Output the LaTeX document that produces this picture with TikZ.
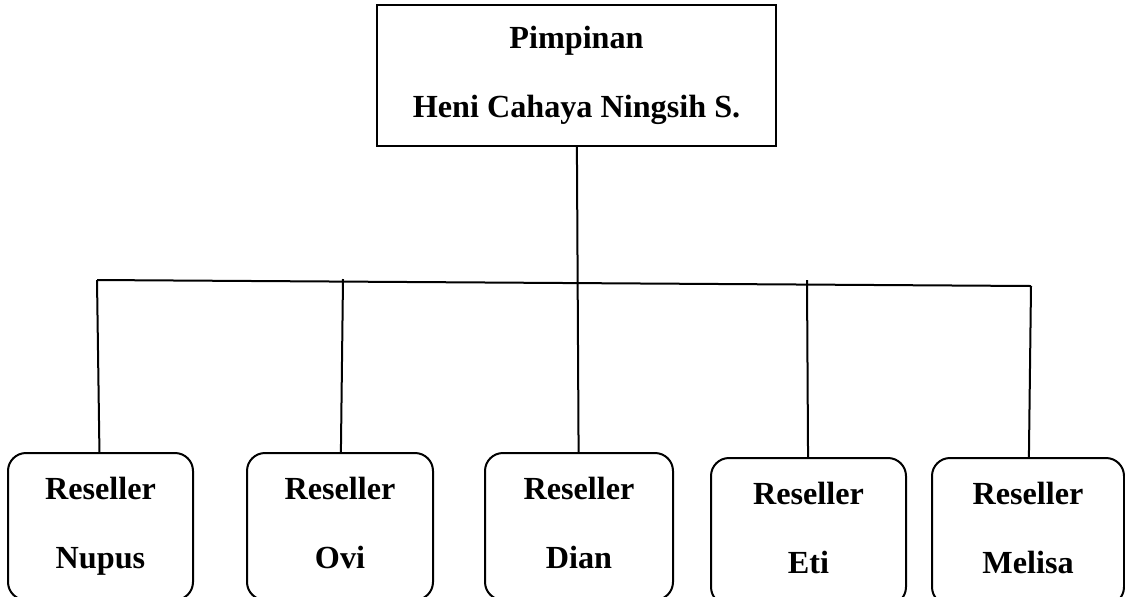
\documentclass[tikz,border=0pt]{standalone}
\usepackage{fontspec}
\setmainfont{Liberation Serif}
\usepackage{tikz}

\begin{document}
\begin{tikzpicture}[
  x=0.5pt, y=-0.5pt,
  line width=1pt,
  headbox/.style={draw,rectangle,align=center,minimum width=199.5pt,minimum height=70.5pt},
  resbox/.style={draw,rectangle,rounded corners=9pt,align=center,minimum height=73.5pt},
  font=\fontsize{16.1}{34.5}\selectfont\bfseries
]
\useasboundingbox (0,0) rectangle (1125,596);
\node[headbox] (pimpinan) at (576.5,75.5) {Pimpinan\\Heni Cahaya Ningsih S.};
\node[resbox,minimum width=92.5pt] (nupus) at (100.5,526.5) {Reseller\\Nupus};
\node[resbox,minimum width=93pt] (ovi) at (340,526.5) {Reseller\\Ovi\vphantom{p}};
\node[resbox,minimum width=94pt] (dian) at (579,526.5) {Reseller\\Dian\vphantom{p}};
\node[resbox,minimum width=97.5pt] (eti) at (808.5,531.5) {Reseller\\Eti\vphantom{p}};
\node[resbox,minimum width=96pt] (melisa) at (1028,531.5) {Reseller\\Melisa\vphantom{p}};
\coordinate (kiri) at (97,280);
\coordinate (kanan) at (1031,286);
\coordinate (ovi-atas) at (343,279);
\coordinate (eti-atas) at (807,280);
\path (pimpinan) edge (dian)
(kiri) edge (kanan)
(kiri) edge (nupus)
(ovi-atas) edge (ovi)
(eti-atas) edge (eti)
(kanan) edge (melisa);
\end{tikzpicture}
\end{document}
